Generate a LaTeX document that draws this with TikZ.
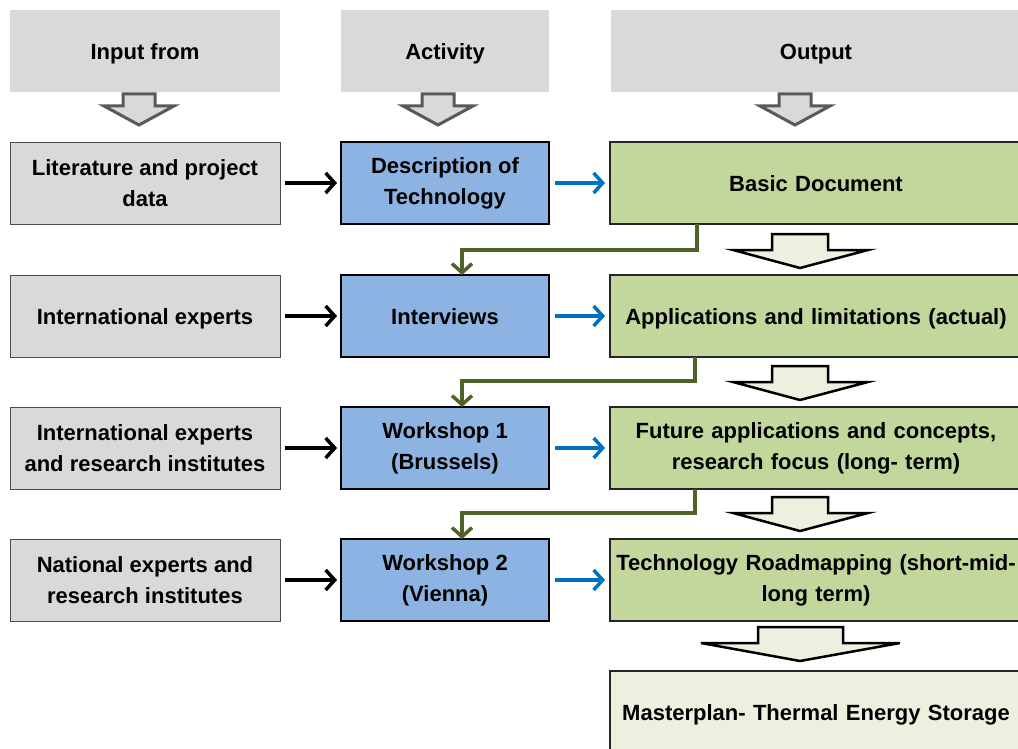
\documentclass[tikz,border=0pt]{standalone}
\usepackage{fontspec}
\setmainfont{Liberation Sans}
\usetikzlibrary{arrows.meta}
\definecolor{hdrgray}{HTML}{D9D9D9}
\definecolor{boxgray}{HTML}{D9D9D9}
\definecolor{actblue}{HTML}{8DB3E2}
\definecolor{outgreen}{HTML}{C3D69B}
\definecolor{palegreen}{HTML}{EBF1DE}
\definecolor{olive}{HTML}{4F6228}
\definecolor{arrblue}{HTML}{0070C0}
\definecolor{outgray}{HTML}{595959}
\tikzset{
  txt/.style={font=\fontsize{22}{31}\selectfont\bfseries, align=center, inner sep=0pt, outer sep=0pt},
  one/.style={text height=17.4pt, text depth=0pt},
  hdr/.style={txt, one, fill=hdrgray, minimum width=270pt, minimum height=82pt, anchor=north west},
  inbox/.style={txt, fill=boxgray, draw=black!70, line width=0.8pt, minimum width=270pt, minimum height=82pt, anchor=north west},
  actbox/.style={txt, fill=actblue, draw=black, line width=1.2pt, minimum width=208pt, minimum height=82pt, anchor=north west},
  outbox/.style={txt, fill=outgreen, draw=black!85, line width=1.2pt, minimum width=412pt, minimum height=82pt, anchor=north west, text width=405pt},
  blk/.style={-{Straight Barb[length=9pt,width=20pt,line width=3.5pt]}, line width=3.5pt, black},
  bluearr/.style={-{Straight Barb[length=9pt,width=20pt,line width=3.5pt]}, line width=3.5pt, arrblue},
  gline/.style={-{Straight Barb[length=9pt,width=20pt,line width=3.5pt]}, line width=3.5pt, olive},
  hdrarrow/.style={draw=outgray, fill=hdrgray, line width=3pt, line join=miter},
  bigarrow/.style={draw=black, fill=palegreen, line width=2.5pt, line join=miter}
}
\begin{document}
\begin{tikzpicture}[x=1pt,y=1pt]
\useasboundingbox (0,0) rectangle (1018,-749);
% headers
\node[hdr] (h1) at (10,-10) {Input from};
\node[hdr, minimum width=208pt] (h2) at (341,-10) {Activity};
\node[hdr, minimum width=410pt] (h3) at (611,-10) {Output};
% header arrows
\foreach \cx in {139,438,795}{
  \draw[hdrarrow] (\cx-16,-94) -- (\cx+16,-94) -- (\cx+16,-106) -- (\cx+35,-106) -- (\cx,-125) -- (\cx-35,-106) -- (\cx-16,-106) -- cycle;
}
% input column
\node[inbox] (in1) at (10,-142) {Literature and project\\data};
\node[inbox, one] (in2) at (10,-275) {International experts};
\node[inbox] (in3) at (10,-407) {International experts\\and research institutes};
\node[inbox] (in4) at (10,-539) {National experts and\\research institutes};
% activity column
\node[actbox] (a1) at (341,-142) {Description of\\Technology};
\node[actbox, one] (a2) at (341,-275) {Interviews};
\node[actbox] (a3) at (341,-407) {Workshop 1\\(Brussels)};
\node[actbox] (a4) at (341,-539) {Workshop 2\\(Vienna)};
% output column
\node[outbox, one] (o1) at (610,-142) {Basic Document};
\node[outbox, one] (o2) at (610,-275) {Applications and limitations (actual)};
\node[outbox] (o3) at (610,-407) {Future applications and concepts,\\research focus (long- term)};
\node[outbox] (o4) at (610,-539) {Technology Roadmapping (short-mid-\\long term)};
\node[outbox, one, fill=palegreen] (o5) at (610,-671) {Masterplan- Thermal Energy Storage};
% black block arrows between outputs
\foreach \t in {234,366,497}{
  \draw[bigarrow] (772,-\t) -- (828,-\t) -- (828,-\t-16) -- (868,-\t-16) -- (800,-\t-34) -- (733,-\t-16) -- (772,-\t-16) -- cycle;
}
\draw[bigarrow] (758,-627) -- (843,-627) -- (843,-643) -- (900,-643) -- (800,-661) -- (701,-643) -- (758,-643) -- cycle;
% horizontal arrows
\foreach \i in {1,2,3,4}{
  \draw[blk, shorten <=5pt, shorten >=4pt] (in\i.east) -- (a\i.west);
  \draw[bluearr, shorten <=6pt, shorten >=5pt] (a\i.east) -- (o\i.west);
}
% green feedback connectors
\coordinate (k1) at (697,-250);
\coordinate (k2) at (695,-381);
\coordinate (k3) at (695,-513);
\coordinate (kx) at (462,0);
\draw[gline] (o1.south -| k1) -- (k1) -| (a2.north -| kx);
\draw[gline] (o2.south -| k2) -- (k2) -| (a3.north -| kx);
\draw[gline] (o3.south -| k3) -- (k3) -| (a4.north -| kx);
\end{tikzpicture}
\end{document}
